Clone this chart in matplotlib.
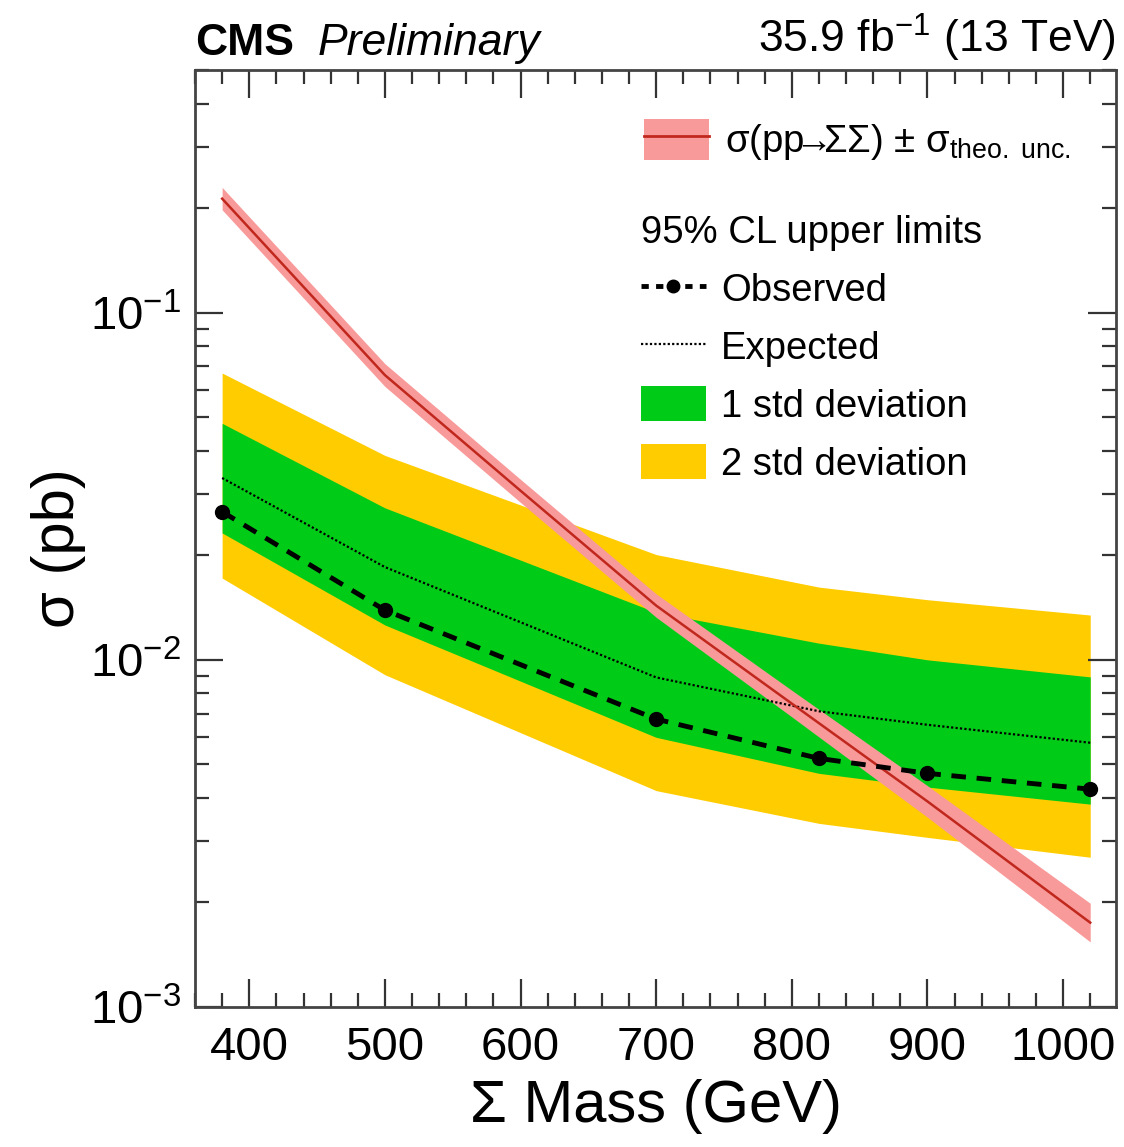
import numpy as np
import matplotlib
matplotlib.use("Agg")
import matplotlib.pyplot as plt
from matplotlib.lines import Line2D
from matplotlib.patches import Patch
from matplotlib.ticker import MultipleLocator, LogLocator, NullFormatter

plt.rcParams['font.family'] = ['Liberation Sans', 'DejaVu Sans']
plt.rcParams['mathtext.fontset'] = 'custom'
plt.rcParams['mathtext.rm'] = 'Liberation Sans'
plt.rcParams['mathtext.it'] = 'Liberation Sans:italic'
plt.rcParams['mathtext.bf'] = 'Liberation Sans:bold'

# 95% CL limits (pb)
mass = [380, 500, 700, 820, 900, 1020]
observed = [0.0267, 0.0139, 0.00675, 0.0052, 0.00471, 0.00424]
expected = [0.0334, 0.0185, 0.0089, 0.00711, 0.0065, 0.00577]
one_sd_lo = [0.0232, 0.0126, 0.00598, 0.00471, 0.0043, 0.00384]
one_sd_hi = [0.048, 0.0274, 0.0137, 0.01117, 0.0100, 0.00893]
two_sd_lo = [0.0172, 0.00906, 0.0042, 0.00338, 0.00308, 0.0027]
two_sd_hi = [0.067, 0.0388, 0.0201, 0.0162, 0.0149, 0.01346]

# theory cross section
th_mass = [380, 500, 600, 700, 800, 900, 1020]
theory = [0.213, 0.0661, 0.0307, 0.01433, 0.00748, 0.00391, 0.00175]
theory_hi = [0.2295, 0.0713, 0.0331, 0.01549, 0.00817, 0.00434, 0.00199]
theory_lo = [0.1978, 0.0613, 0.0284, 0.01326, 0.00685, 0.00352, 0.00154]

green = '#00cc18'
yellow = '#ffcc00'
red_band = '#f99a9a'
red_line = '#c0281e'

fig = plt.figure(figsize=(11.24, 11.47), dpi=100)
ax = fig.add_axes([195/1124, 1 - 1007/1147, (1116 - 195)/1124, (1007 - 70)/1147])

ax.fill_between(mass, two_sd_lo, two_sd_hi, color=yellow, lw=0)
ax.fill_between(mass, one_sd_lo, one_sd_hi, color=green, lw=0)
ax.plot(mass, expected, color='black', lw=1.6, dashes=(1, 1))
ax.fill_between(th_mass, theory_lo, theory_hi, color=red_band, lw=0)
ax.plot(th_mass, theory, color=red_line, lw=1.8)
ax.plot(mass, observed, color='black', lw=3.5, dashes=(3, 2.2), marker='o', ms=10)

ax.set_yscale('log')
ax.set_xlim(360, 1039)
ax.set_ylim(1e-3, 0.5)

ax.xaxis.set_major_locator(MultipleLocator(100))
ax.xaxis.set_minor_locator(MultipleLocator(20))
ax.yaxis.set_major_locator(LogLocator(base=10))
ax.yaxis.set_minor_locator(LogLocator(base=10, subs=np.arange(2, 10)))
ax.yaxis.set_minor_formatter(NullFormatter())

ax.tick_params(which='both', direction='in', top=True, right=True, width=1.6, color='#333333')
ax.tick_params(which='major', length=20, labelsize=34, pad=14)
ax.tick_params(axis='y', which='major', pad=10)
ax.tick_params(which='minor', length=10)
for s in ax.spines.values():
    s.set_linewidth(2)
    s.set_color('#444444')

ax.set_xlabel('Σ Mass (GeV)', fontsize=43, loc='center', labelpad=6)
ax.set_ylabel('σ (pb)', fontsize=43, loc='center')
ax.yaxis.set_label_coords(-0.118, 0.49)

# header
ax.text(0.0, 1.006, 'CMS', transform=ax.transAxes, fontsize=32, fontweight='bold', va='bottom', ha='left')
ax.text(0.133, 1.006, 'Preliminary', transform=ax.transAxes, fontsize=32, style='italic', va='bottom', ha='left')
ax.text(1.0, 1.006, '35.9 fb$^{-1}$ (13 TeV)', transform=ax.transAxes, fontsize=32, va='bottom', ha='right')

# legends
th_handle = (Patch(facecolor=red_band, edgecolor='none'), Line2D([], [], color=red_line, lw=2))
th_label = 'σ(pp$\\!\\!\\!\\rightarrow\\!\\!\\!$ΣΣ) ± σ$_{\\mathregular{theo.\\ unc.}}$'
leg1 = ax.legend([th_handle], [th_label],
                 loc='upper left', bbox_to_anchor=(0.488, 0.948), frameon=False,
                 fontsize=27.5, handlelength=1.7, handleheight=1.3, handletextpad=0.4,
                 borderaxespad=0, borderpad=0)
ax.add_artist(leg1)

obs_handle = Line2D([], [], color='black', lw=3.5, dashes=(1.5, 1.5), marker='o', ms=9)
exp_handle = Line2D([], [], color='black', lw=1.6, dashes=(1, 1))
g_handle = Patch(facecolor=green, edgecolor='none')
y_handle = Patch(facecolor=yellow, edgecolor='none')
leg2 = ax.legend([obs_handle, exp_handle, g_handle, y_handle],
                 ['Observed', 'Expected', '1 std deviation', '2 std deviation'],
                 title='95% CL upper limits', title_fontsize=27.5, alignment='left',
                 loc='upper left', bbox_to_anchor=(0.484, 0.845), frameon=False,
                 fontsize=27.5, handlelength=1.7, handleheight=1.05, handletextpad=0.4,
                 labelspacing=0.5, numpoints=1, borderaxespad=0, borderpad=0)

fig.savefig('out.png', dpi=100)
